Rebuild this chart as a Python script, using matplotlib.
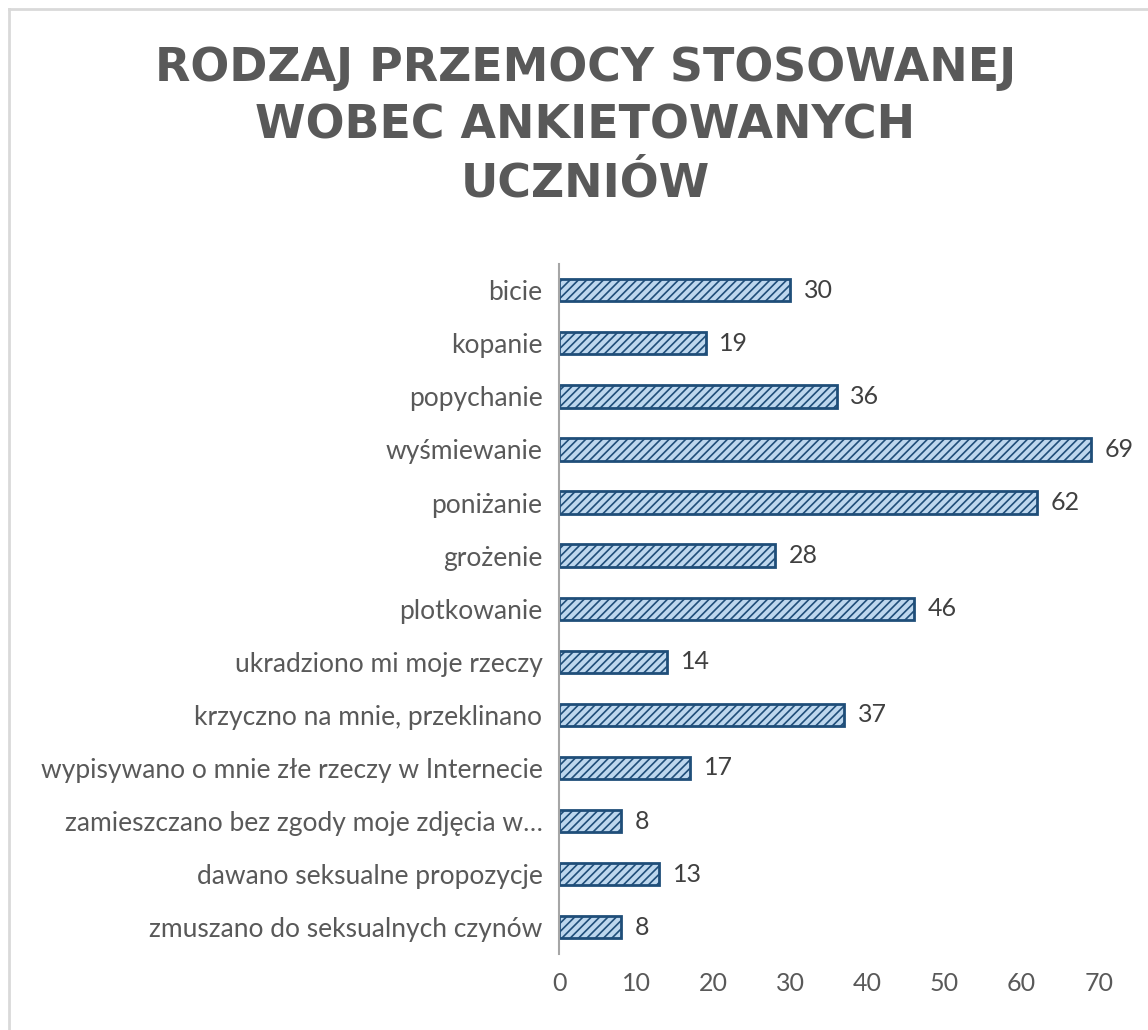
import matplotlib.pyplot as plt
import matplotlib.lines as mlines
import numpy as np

plt.rcParams['font.family'] = ['Lato', 'DejaVu Sans']
plt.rcParams['hatch.color'] = '#1F4E79'
plt.rcParams['hatch.linewidth'] = 1.2

categories = [
    "bicie",
    "kopanie",
    "popychanie",
    "wyśmiewanie",
    "poniżanie",
    "grożenie",
    "plotkowanie",
    "ukradziono mi moje rzeczy",
    "krzyczno na mnie, przeklinano",
    "wypisywano o mnie złe rzeczy w Internecie",
    "zamieszczano bez zgody moje zdjęcia w…",
    "dawano seksualne propozycje",
    "zmuszano do seksualnych czynów",
]
values = [30, 19, 36, 69, 62, 28, 46, 14, 37, 17, 8, 13, 8]
x_ticks = [0, 10, 20, 30, 40, 50, 60, 70]

title = "RODZAJ PRZEMOCY STOSOWANEJ\nWOBEC ANKIETOWANYCH\nUCZNIÓW"

text_grey = '#595959'
bar_face = '#BDD7EE'
bar_edge = '#1F4E79'

fig = plt.figure(figsize=(11.48, 10.30), dpi=100)
ax = fig.add_axes([0.487, 0.074, 0.470, 0.670])

y = np.arange(len(categories))
ax.barh(y, values, height=0.42, color=bar_face, edgecolor=bar_edge,
        linewidth=2.0, hatch='////')

for yi, v in zip(y, values):
    ax.text(v + 1.8, yi, str(v), va='center', ha='left',
            fontsize=18, color='#404040')

ax.set_yticks(y)
ax.set_yticklabels(categories, fontsize=19, color=text_grey)
ax.set_ylim(len(categories) - 0.5, -0.5)
ax.set_xlim(0, 70)
ax.set_xticks(x_ticks)
ax.set_xticklabels([str(t) for t in x_ticks], fontsize=18, color=text_grey)
ax.tick_params(axis='both', length=0)
ax.tick_params(axis='x', pad=13)
ax.tick_params(axis='y', pad=12)

for s in ['top', 'right', 'bottom']:
    ax.spines[s].set_visible(False)
ax.spines['left'].set_color('#A6A6A6')
ax.spines['left'].set_linewidth(1.5)

fig.text(0.51, 0.955, title, ha='center', va='top', fontsize=33,
         fontweight='bold', color=text_grey, linespacing=1.36,
         family=['DejaVu Sans'])

# outer chart border (left and top visible)
fig.add_artist(mlines.Line2D([0.0075, 0.0075], [0.0, 0.991], color='#D9D9D9', lw=2))
fig.add_artist(mlines.Line2D([0.0075, 1.0], [0.991, 0.991], color='#D9D9D9', lw=2))

fig.savefig('out.png', dpi=100)
